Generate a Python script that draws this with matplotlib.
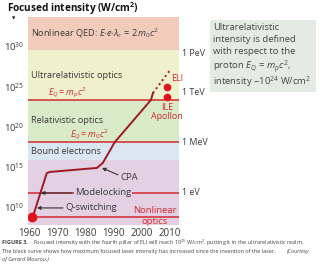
import numpy as np
import matplotlib
matplotlib.use('Agg')
import matplotlib.pyplot as plt
from matplotlib.patches import Rectangle

plt.rcParams['font.family'] = ['Open Sans', 'DejaVu Sans']
plt.rcParams['mathtext.fontset'] = 'custom'
plt.rcParams['mathtext.rm'] = 'Open Sans'
plt.rcParams['mathtext.it'] = 'Open Sans:italic'
plt.rcParams['mathtext.bf'] = 'Open Sans:bold'

# ---- data (exponents of W/cm^2) ----
curve_years = [1961.2, 1966.2, 1967.3, 1984.1, 1986.2, 1990.5, 2003.4, 2004.1]
curve_exp = [8.76, 14.2, 14.35, 14.85, 15.47, 18.07, 23.3, 24.16]
future_years = [2004.1, 2010.2]
future_exp = [24.16, 27.0]
start_point = (1961.0, 8.7)
eli_point = (2009.1, 24.9)
ile_point = (2009.1, 23.6)

band_edges = [7.76, 15.8, 18.07, 23.3, 29.5, 33.6]
band_colors = ['#e3d0e3', '#dae6f1', '#d8eac8', '#eef1cc', '#f3cbbb']
band_names = ['', 'Bound electrons', 'Relativistic optics', 'Ultrarelativistic optics', '']
red_lines = [23.3, 18.07, 11.74, 8.76]
energy_labels = ['1 PeV', '1 TeV', '1 MeV', '1 eV']
energy_pos = [29.1, 24.2, 17.95, 11.74]
ytick_exp = [10, 15, 20, 25, 30]
xticks = [1960, 1970, 1980, 1990, 2000, 2010]

RED = '#d42a2f'
CURVE = '#9c1a25'
TXT = '#3a3a3a'

fig = plt.figure(figsize=(3.2, 2.65), dpi=100)
ax = fig.add_axes([28 / 320, 1 - 225 / 265, 151 / 320, 208 / 265])
ax.set_yscale('log')
ax.set_xlim(1959.5, 2013.4)
ax.set_ylim(10 ** band_edges[0], 10 ** band_edges[-1])

for lo, hi, c in zip(band_edges[:-1], band_edges[1:], band_colors):
    ax.axhspan(10 ** lo, 10 ** hi, color=c, lw=0, zorder=0)
for name, lo, hi in zip(band_names, band_edges[:-1], band_edges[1:]):
    if name:
        ax.text(1960.4, 10 ** ((lo + hi) / 2 - (0.1 if 'Ultra' in name else 0)), name,
                fontsize=6.6, color=TXT, va='center', ha='left')
for r in red_lines:
    ax.axhline(10 ** r, color=RED, lw=1.1, zorder=1)

ax.text(1960.4, 10 ** 31.6, r'Nonlinear QED: $E{\cdot}e{\cdot}\lambda_c\,=\,2m_0c^2$',
        fontsize=6.6, color=TXT, va='center')
ax.text(1966.6, 10 ** 24.2, r'$E_Q = m_pc^2$', fontsize=6.4, color=RED, va='center')
ax.text(1974.6, 10 ** 18.95, r'$E_Q = m_0c^2$', fontsize=6.4, color=RED, va='center')

# curve
ax.plot(curve_years, 10 ** np.array(curve_exp), color=CURVE, lw=1.4, zorder=4)
ax.plot(future_years, 10 ** np.array(future_exp), color=CURVE, lw=1.4, ls=(0, (1, 1.6)), zorder=4)
ax.plot(start_point[0], 10 ** start_point[1], 'o', color='#e0141e', ms=6, zorder=5)
ax.plot(eli_point[0], 10 ** eli_point[1], 'o', color='#e0141e', ms=4.5, zorder=5)
ax.plot(ile_point[0], 10 ** ile_point[1], 'o', color='#e0141e', ms=4.5, zorder=5)

ax.text(2010.6, 10 ** 25.9, 'ELI', fontsize=6.4, color=RED, va='center', clip_on=False)
ax.text(2009.1, 10 ** 22.4, 'ILE', fontsize=6.4, color=RED, va='center', ha='center')
ax.text(2009.1, 10 ** 21.2, 'Apollon', fontsize=6.4, color=RED, va='center', ha='center')

arrow = dict(arrowstyle='-|>', color='#333333', lw=0.8, mutation_scale=5, shrinkA=0, shrinkB=0)
ax.annotate('', xy=(1985.9, 10 ** 14.85), xytext=(1991.6, 10 ** 14.0), arrowprops=arrow, zorder=6)
ax.text(1992.3, 10 ** 13.7, 'CPA', fontsize=6.8, color=TXT, va='center')
ax.annotate('', xy=(1964.1, 10 ** 11.74), xytext=(1975.2, 10 ** 11.74), arrowprops=arrow, zorder=6)
ax.text(1976.2, 10 ** 11.74, 'Modelocking', fontsize=6.8, color=TXT, va='center',
        bbox=dict(facecolor=band_colors[0], edgecolor='none', pad=0.6), zorder=5)
ax.annotate('', xy=(1962.7, 10 ** 9.88), xytext=(1972.0, 10 ** 9.88), arrowprops=arrow, zorder=6)
ax.text(1972.7, 10 ** 9.88, 'Q-switching', fontsize=6.8, color=TXT, va='center')
ax.text(1997.0, 10 ** 9.5, 'Nonlinear', fontsize=6.8, color=RED, va='center')
ax.text(2004.8, 10 ** 8.14, 'optics', fontsize=6.8, color=RED, va='center', ha='center')

for lab, p in zip(energy_labels, energy_pos):
    ax.text(1.02, 10 ** p, lab, transform=ax.get_yaxis_transform(), fontsize=6.4,
            color=TXT, va='center', ha='left')

ax.set_yticks([10.0 ** e for e in ytick_exp])
ax.set_yticklabels([r'$10^{%d}$' % e for e in ytick_exp])
ax.yaxis.set_minor_locator(matplotlib.ticker.NullLocator())
ax.set_xticks(xticks)
ax.tick_params(length=0, labelsize=7, colors=TXT, pad=2)
ax.tick_params(axis='y', labelsize=6.8, pad=3)
for s in ax.spines.values():
    s.set_visible(False)

# title and small axis arrow
fig.text(7 / 320, 1 - 8.5 / 265, r'Focused intensity (W/cm$^\mathbf{2}$)', fontsize=7.2,
         fontweight='bold', color='#111111', va='center', ha='left')
fig.text(14 / 320, 1 - 19 / 265, '\u25bc', fontsize=3.2, color='#111111', ha='center', va='center',
         family='DejaVu Sans')

# side box
fig.patches.append(Rectangle((210 / 320, 1 - 92 / 265), 106 / 320, 72 / 265,
                             transform=fig.transFigure, facecolor='#e4ebe4', edgecolor='none'))
box_lines = ['Ultrarelativistic', 'intensity is defined', 'with respect to the',
             r'proton $E_Q$ = $m_pc^2$,', r'intensity ~10$^{24}$ W/cm$^2$']
box_y = [27, 39.5, 52, 67, 82]
for t, yy in zip(box_lines, box_y):
    fig.text(213 / 320, 1 - yy / 265, t, fontsize=6.8, color='#454545', va='center', ha='left')

# caption
cap_color = '#444444'
fig.text(2 / 320, 1 - 243 / 265, 'FIGURE 3.', fontsize=4, fontweight='bold', color=cap_color, va='center')
fig.text(33 / 320, 1 - 243 / 265,
         r'Focused intensity with the fourth pillar of ELI will reach 10$^{25}$ W/cm$^2$, putting it in the ultrarelativistic realm.',
         fontsize=4, color=cap_color, va='center')
fig.text(2 / 320, 1 - 251 / 265,
         'The black curve shows how maximum focused laser intensity has increased since the invention of the laser. ',
         fontsize=4, color=cap_color, va='center')
fig.text(287 / 320, 1 - 251 / 265, '(Courtesy', fontsize=4, style='italic', color=cap_color, va='center')
fig.text(2 / 320, 1 - 259 / 265, 'of Gerard Mourou.)', fontsize=4, style='italic', color=cap_color, va='center')

fig.savefig('out.png', dpi=100)
